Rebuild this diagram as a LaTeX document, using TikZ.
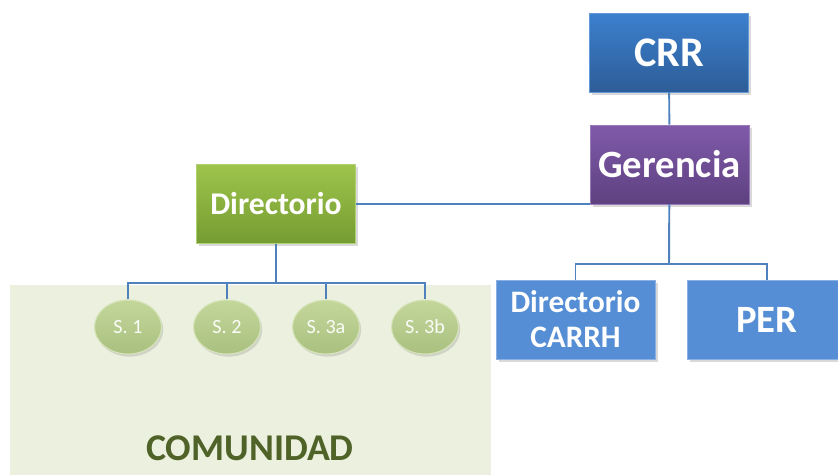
\documentclass[tikz,border=0pt]{standalone}
\usepackage{fontspec}
\setmainfont{Carlito}
\usetikzlibrary{shapes.geometric,shadows}

\definecolor{crrtop}{RGB}{60,128,206}
\definecolor{crrbot}{RGB}{45,93,152}
\definecolor{gertop}{RGB}{128,90,170}
\definecolor{gerbot}{RGB}{94,65,128}
\definecolor{dirtop}{RGB}{158,196,76}
\definecolor{dirbot}{RGB}{117,156,49}
\definecolor{boxblue}{RGB}{85,142,213}
\definecolor{linkblue}{RGB}{79,129,189}
\definecolor{comfill}{RGB}{235,241,222}
\definecolor{comtext}{RGB}{79,98,40}
\definecolor{sectop}{RGB}{196,215,155}
\definecolor{secbot}{RGB}{169,192,127}

\tikzset{
  orgbox/.style={rectangle, minimum width=3.18cm, minimum height=1.58cm, inner sep=2pt,
    text=white, font=\bfseries, align=center,
    drop shadow={opacity=0.3, shadow xshift=1.5pt, shadow yshift=-1.5pt}},
  sector/.style={ellipse, minimum width=1.34cm, minimum height=1.08cm, inner sep=1pt,
    top color=sectop, bottom color=secbot, draw=sectop!70!white, line width=0.6pt,
    text=white!92!sectop, font=\fontsize{11.5}{13}\selectfont,
    drop shadow={opacity=0.25, shadow xshift=1pt, shadow yshift=-1.5pt}},
  link/.style={draw=linkblue, line width=1.1pt}
}

\begin{document}
\begin{tikzpicture}[x=0.02cm, y=-0.02cm]

\useasboundingbox (0,0) rectangle (838,474);

\fill[comfill] (10,285) rectangle (491,480);
\node[font=\bfseries\fontsize{21.5}{26}\selectfont, text=comtext] (com) at (250,448) {COMUNIDAD};

\node[orgbox, top color=crrtop, bottom color=crrbot, draw=crrtop!80!white,
  font=\bfseries\fontsize{24}{28}\selectfont] (crr) at (669,52.5) {CRR};
\node[orgbox, top color=gertop, bottom color=gerbot, draw=gertop!80!white,
  font=\bfseries\fontsize{22}{26}\selectfont] (ger) at (669.5,164.5) {Gerencia};
\node[orgbox, top color=dirtop, bottom color=dirbot, draw=dirtop!80!white,
  font=\bfseries\fontsize{18}{20}\selectfont] (dir) at (276,204) {Directorio};
\node[orgbox, fill=boxblue, draw=boxblue!70!white,
  font=\bfseries\fontsize{17.8}{19.8}\selectfont] (carrh) at (575.5,319.5) {Directorio\\CARRH};
\node[orgbox, fill=boxblue, draw=boxblue!70!white,
  font=\bfseries\fontsize{22}{26}\selectfont] (per) at (767,319.5) {PER};

\node[sector] (s1) at (128,327) {S. 1};
\node[sector] (s2) at (227,327) {S. 2};
\node[sector] (s3a) at (326,327) {S. 3a};
\node[sector] (s3b) at (425,327) {S. 3b};

\coordinate (gsplit) at (669,264);
\coordinate (dsplit) at (276,283);

\draw[link] (crr) -- (ger);
\draw[link] (dir.east) -- (dir.east -| ger.west);
\draw[link] (ger) -- (gsplit);
\draw[link] (carrh.north) |- (gsplit) -| (per.north);
\draw[link, line width=1.6pt] (dir) -- (dsplit);
\draw[link] (s1.north) |- (dsplit) -| (s3b.north);
\foreach \s in {s2,s3a}
  \draw[link] (\s.north) -- (\s.north |- dsplit);

\end{tikzpicture}
\end{document}
